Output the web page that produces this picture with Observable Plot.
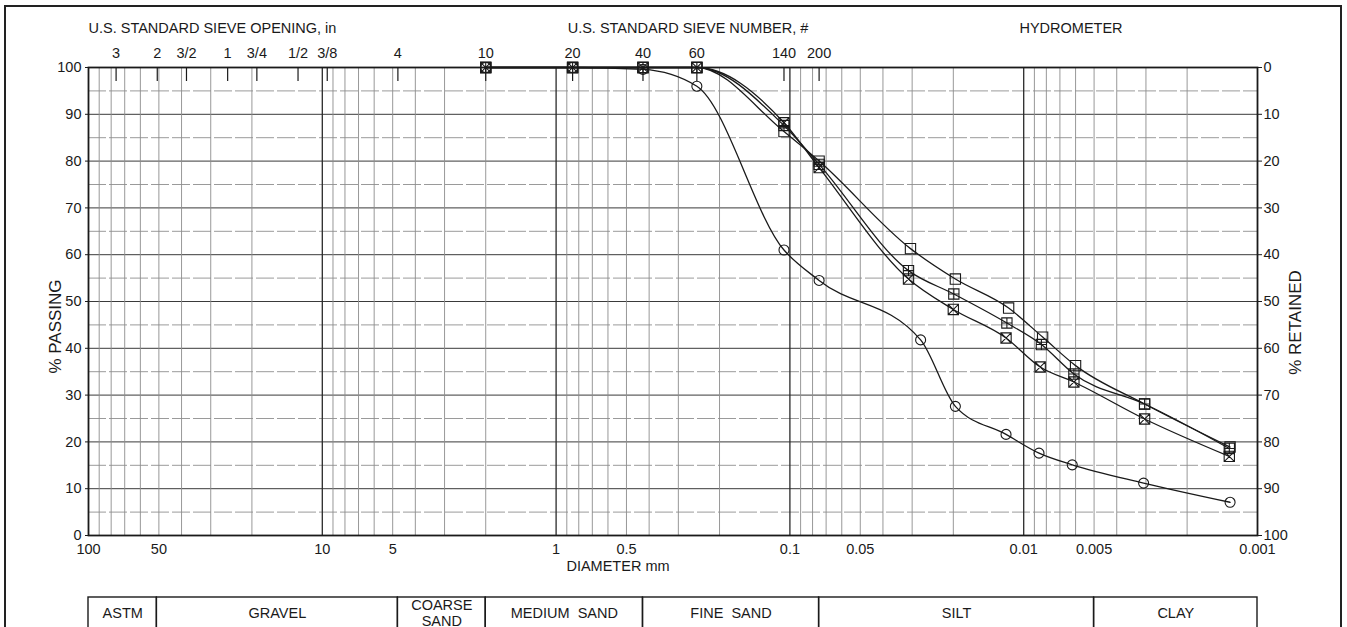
<!DOCTYPE html>
<html>
<head>
<meta charset="utf-8">
<script src="https://cdn.jsdelivr.net/npm/d3@7"></script>
<script src="https://cdn.jsdelivr.net/npm/@observablehq/plot@0.6"></script>
<style>
  html, body { margin: 0; padding: 0; background: #fff; }
  body { width: 1347px; height: 627px; overflow: hidden; position: relative; font-family: "Liberation Sans", Arial, sans-serif; }
  #border { position: absolute; left: 4px; top: 5px; width: 1334px; height: 700px; border: 2px solid #222; }
  #main { position: absolute; left: 0; top: 0; }
  #table { position: absolute; left: 0; top: 580px; }
</style>
</head>
<body>
<div id="border"></div>
<div id="main"></div>
<div id="table"></div>
<script>
// ---------------- DATA ----------------
const sieveDiam = [2.0, 0.85, 0.425, 0.25, 0.106, 0.075];          // mm (#10, #20, #40, #60, #140, #200)

const hydroDiamA = [0.0276, 0.0196, 0.0119, 0.0086, 0.0062, 0.00307, 0.00131];
const hydroDiamB = [0.0305, 0.0196, 0.0116, 0.0083, 0.0060, 0.00304, 0.00131];
const hydroDiamC = [0.0311, 0.0199, 0.0118, 0.0084, 0.0061, 0.00304, 0.00132];
const hydroDiamD = [0.0311, 0.0200, 0.0119, 0.0085, 0.0061, 0.00304, 0.00132];

const passA = [100, 100, 99.6, 96, 61, 54.5, 41.8, 27.6, 21.6, 17.6, 15.1, 11.2, 7.1];      // circle
const passB = [100, 100, 100, 100, 86.3, 80.0, 61.3, 54.8, 48.6, 42.4, 36.3, 28.1, 18.9];  // square
const passC = [100, 100, 100, 100, 87.6, 79.3, 56.6, 51.6, 45.4, 40.8, 34.5, 28.1, 18.6];  // square + plus
const passD = [100, 100, 100, 100, 88.2, 78.6, 54.8, 48.3, 42.2, 36.0, 32.8, 24.9, 16.9];  // square + times

const diamTicks = [100, 50, 10, 5, 1, 0.5, 0.1, 0.05, 0.01, 0.005, 0.001];
const sieveInD = [76.2, 50.8, 38.1, 25.4, 19.05, 12.7, 9.525];
const sieveInLabels = ["3", "2", "3/2", "1", "3/4", "1/2", "3/8"];
const sieveNoD = [4.75, 2.0, 0.85, 0.425, 0.25, 0.106, 0.075];
const sieveNoLabels = ["4", "10", "20", "40", "60", "140", "200"];
const yTicks = [0, 10, 20, 30, 40, 50, 60, 70, 80, 90, 100];

const classNames = ["ASTM", "GRAVEL", "COARSE\nSAND", "MEDIUM  SAND", "FINE  SAND", "SILT", "CLAY"];
const classFrom = [100, 51, 4.75, 2.0, 0.425, 0.075, 0.005];
const classTo   = [51, 4.75, 2.0, 0.425, 0.075, 0.005, 0.001];

const headers = ["U.S. STANDARD SIEVE OPENING, in", "U.S. STANDARD SIEVE NUMBER, #", "HYDROMETER"];
const axisTitles = ["% PASSING", "% RETAINED"];

// ---------------- BUILD ----------------
const rows = [];
function addSeries(sample, hydro, pass) {
  const ds = sieveDiam.concat(hydro);
  ds.forEach((d, i) => rows.push({sample, d, p: pass[i]}));
}
addSeries("A", hydroDiamA, passA);
addSeries("B", hydroDiamB, passB);
addSeries("C", hydroDiamC, passC);
addSeries("D", hydroDiamD, passD);
const of = s => rows.filter(r => r.sample === s);

const topLabels = sieveInD.map((d, i) => ({d, label: sieveInLabels[i]}))
  .concat(sieveNoD.map((d, i) => ({d, label: sieveNoLabels[i]})));

const minor = d3.range(-3, 2).flatMap(e => d3.range(2, 10).map(m => +(m * Math.pow(10, e)).toPrecision(3)));

const squarePlus = {draw(ctx, size) {
  const h = Math.sqrt(size) / 2;
  ctx.moveTo(-h, -h); ctx.lineTo(h, -h); ctx.lineTo(h, h); ctx.lineTo(-h, h); ctx.closePath();
  ctx.moveTo(-h, 0); ctx.lineTo(h, 0); ctx.moveTo(0, -h); ctx.lineTo(0, h);
}};
const squareTimes = {draw(ctx, size) {
  const h = Math.sqrt(size) / 2;
  ctx.moveTo(-h, -h); ctx.lineTo(h, -h); ctx.lineTo(h, h); ctx.lineTo(-h, h); ctx.closePath();
  ctx.moveTo(-h, -h); ctx.lineTo(h, h); ctx.moveTo(-h, h); ctx.lineTo(h, -h);
}};
const squareOnly = {draw(ctx, size) {
  const h = Math.sqrt(size) / 2;
  ctx.moveTo(-h, -h); ctx.lineTo(h, -h); ctx.lineTo(h, h); ctx.lineTo(-h, h); ctx.closePath();
}};

const W = 1347;
const FS = 14.5;
const font = "'Liberation Sans', Arial, Helvetica, sans-serif";
const ink = "#1a1a1a";

const main = Plot.plot({
  width: W,
  height: 580,
  marginTop: 67,
  marginBottom: 45,
  marginLeft: 88,
  marginRight: 90,
  x: {type: "log", domain: [100, 0.001]},
  y: {domain: [0, 100]},
  style: {fontFamily: font, fontSize: FS + "px", color: ink, background: "transparent", overflow: "visible"},
  marks: [
    Plot.ruleY(d3.range(5, 100, 10), {stroke: "#8f8f8f", strokeWidth: 0.9, strokeDasharray: "18,3"}),
    Plot.ruleY(d3.range(10, 100, 10), {stroke: "#3a3a3a", strokeWidth: 1}),
    Plot.ruleX(minor, {stroke: "#8c8c8c", strokeWidth: 0.9}),
    Plot.ruleX([10, 1, 0.1, 0.01], {stroke: "#2a2a2a", strokeWidth: 1.3}),
    Plot.frame({stroke: ink, strokeWidth: 1.8}),
    Plot.axisY({anchor: "left", ticks: yTicks, tickSize: 3, tickPadding: 4, fontSize: FS, label: null}),
    Plot.axisY({anchor: "right", ticks: yTicks, tickFormat: d => String(100 - d), tickSize: 4, tickPadding: 2, fontSize: FS, label: null}),
    Plot.text([axisTitles[0]], {frameAnchor: "left", rotate: -90, lineAnchor: "middle", textAnchor: "middle", dx: -33, dy: 25, fontSize: 17, fill: ink}),
    Plot.text([axisTitles[1]], {frameAnchor: "right", rotate: -90, lineAnchor: "middle", textAnchor: "middle", dx: 38, dy: 21, fontSize: 17, fill: ink}),
    // inward tick marks for sieve positions
    Plot.axisX({anchor: "top", ticks: sieveInD.concat(sieveNoD), tickFormat: () => "", tickSize: -13, label: null, strokeWidth: 1.2}),
    // top sieve labels
    Plot.text(topLabels, {x: "d", text: "label", frameAnchor: "top", lineAnchor: "middle", dy: -14, fontSize: FS, fill: ink}),
    // bottom diameter labels
    Plot.text(diamTicks, {x: d => d, text: d => String(d), frameAnchor: "bottom", lineAnchor: "middle", dy: 14, fontSize: FS, fill: ink}),
    Plot.text(["DIAMETER mm"], {frameAnchor: "bottom", lineAnchor: "middle", dx: -55, dy: 31, fontSize: FS, fill: ink}),
    Plot.text([headers[0]], {frameAnchor: "top-left", lineAnchor: "middle", textAnchor: "start", dy: -39, fontSize: FS, fill: ink}),
    Plot.text([headers[1]], {frameAnchor: "top", lineAnchor: "middle", dx: 15, dy: -39, fontSize: FS, fill: ink}),
    Plot.text([headers[2]], {frameAnchor: "top", lineAnchor: "middle", dx: 398, dy: -39, fontSize: FS, fill: ink}),
    Plot.line(rows, {x: "d", y: "p", z: "sample", curve: "monotone-x", stroke: ink, strokeWidth: 1.3}),
    Plot.dot(of("A"), {x: "d", y: "p", symbol: "circle", r: 5, stroke: ink, fill: "none", strokeWidth: 1.1}),
    Plot.dot(of("B"), {x: "d", y: "p", symbol: squareOnly, r: 5.8, stroke: ink, fill: "none", strokeWidth: 1.1}),
    Plot.dot(of("C"), {x: "d", y: "p", symbol: squarePlus, r: 5.8, stroke: ink, fill: "none", strokeWidth: 1.1}),
    Plot.dot(of("D"), {x: "d", y: "p", symbol: squareTimes, r: 5.8, stroke: ink, fill: "none", strokeWidth: 1.1})
  ]
});
document.getElementById("main").appendChild(main);

const classRows = classNames.map((name, i) => ({name, from: classFrom[i], to: classTo[i]}));
const table = Plot.plot({
  width: W,
  height: 62,
  marginTop: 17,
  marginBottom: 0,
  marginLeft: 88,
  marginRight: 90,
  x: {type: "log", domain: [100, 0.001], axis: null},
  style: {fontFamily: font, fontSize: FS + "px", color: ink, background: "transparent"},
  marks: [
    Plot.rect(classRows, {x1: "from", x2: "to", stroke: ink, strokeWidth: 1.4, fill: "none"}),
    Plot.text(classRows, {x: d => Math.sqrt(d.from * d.to), text: "name", frameAnchor: "top", lineAnchor: "middle",
      dy: 15, fontSize: FS, fill: ink, lineHeight: 1.1})
  ]
});
document.getElementById("table").appendChild(table);
</script>
</body>
</html>
